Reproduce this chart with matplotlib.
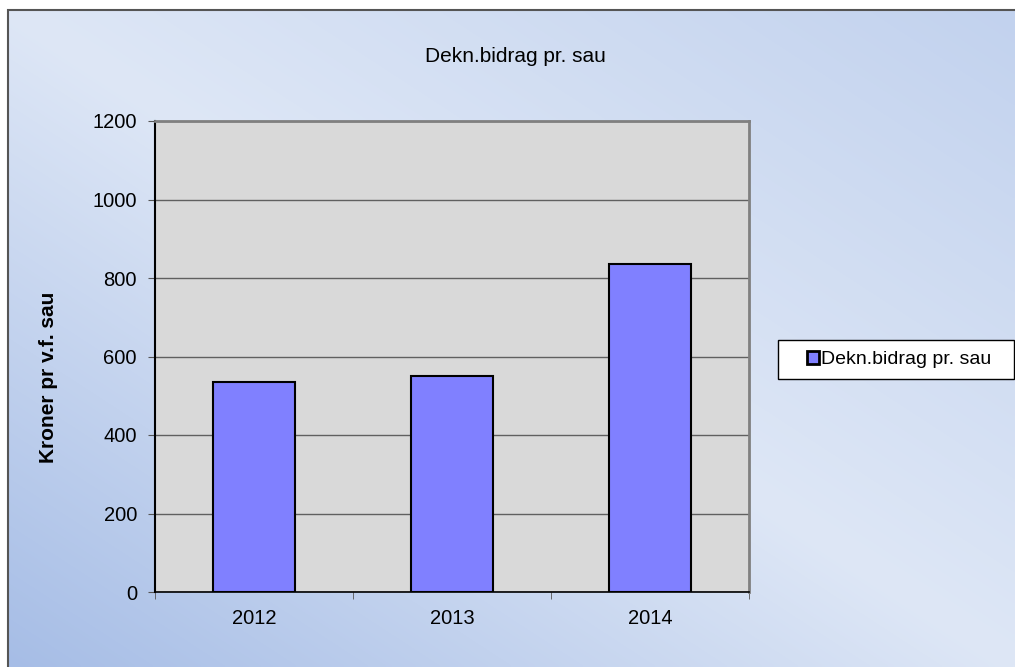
import numpy as np
import matplotlib
matplotlib.use("Agg")
import matplotlib.pyplot as plt
from matplotlib.patches import Rectangle, Patch
from matplotlib.colors import to_rgb

# ---- data ----
years = ["2012", "2013", "2014"]
values = [536, 550, 836]
series_name = "Dekn.bidrag pr. sau"
title = "Dekn.bidrag pr. sau"
ylabel = "Kroner pr v.f. sau"
yticks = [0, 200, 400, 600, 800, 1000, 1200]

plt.rcParams['font.family'] = ['Liberation Sans', 'DejaVu Sans']

W, H = 1015, 667
fig = plt.figure(figsize=(W / 100, H / 100), dpi=100)
fig.patch.set_facecolor("white")

# ---- gradient background inside frame ----
fx0, fy_top = 8, 10
bg = fig.add_axes([fx0 / W, 0, 1 - fx0 / W, 1 - fy_top / H], zorder=-10)
bg.set_axis_off()
gh, gw = 200, 300
yy, xx = np.mgrid[0:gh, 0:gw]
d = yy / (gh - 1) - xx / (gw - 1)  # -1 (top-right) .. +1 (bottom-left)
light = np.array(to_rgb("#dee7f6"))
dark_bl = np.array(to_rgb("#a6bde6"))
dark_tr = np.array(to_rgb("#c2d2ee"))
t_pos = np.clip(d, 0, 1)[..., None]
t_neg = np.clip(-d, 0, 1)[..., None]
img = light * (1 - t_pos - t_neg) + dark_bl * t_pos + dark_tr * t_neg
bg.imshow(img, aspect="auto", extent=[0, 1, 0, 1], interpolation="bilinear")
bg.set_xlim(0, 1)
bg.set_ylim(0, 1)

# frame
fig.patches.append(Rectangle((fx0 / W, -0.1), 1.2, 1.1 - fy_top / H,
                             transform=fig.transFigure, fill=False,
                             edgecolor="#555555", lw=1.5, zorder=-5))

# ---- main axes ----
left, right, top, bottom = 155, 749, 121, 592
ax = fig.add_axes([left / W, 1 - bottom / H, (right - left) / W, (bottom - top) / H])
ax.set_facecolor("#d9d9d9")

x = np.arange(len(years))
bars = ax.bar(x, values, width=0.41, color="#8080ff", edgecolor="black",
              linewidth=1.5, zorder=3, label=series_name)

ax.set_ylim(0, 1200)
ax.set_xlim(-0.5, len(years) - 0.5)
ax.set_yticks(yticks)
ax.set_yticklabels([str(v) for v in yticks])
ax.yaxis.grid(True, color="#606060", lw=1, zorder=1)
ax.set_axisbelow(True)

ax.set_xticks(x)
ax.set_xticklabels(years)
ax.set_xticks(np.arange(-0.5, len(years)), minor=True)
ax.tick_params(axis="x", which="major", length=0, labelsize=14.5, pad=12)
ax.tick_params(axis="x", which="minor", length=5, direction="out", color="#555555")
ax.tick_params(axis="y", length=5, direction="out", labelsize=14.5, pad=8, color="#555555")

for s in ["top", "right"]:
    ax.spines[s].set_color("#808080")
    ax.spines[s].set_linewidth(2)
ax.spines["left"].set_color("black")
ax.spines["left"].set_linewidth(1.5)
ax.spines["bottom"].set_color("black")
ax.spines["bottom"].set_linewidth(1.2)

# ---- texts ----
fig.text(515 / W, 1 - 57 / H, title, ha="center", va="center", fontsize=15)
fig.text(49 / W, 1 - 377 / H, ylabel, rotation=90, ha="center", va="center",
         fontsize=15, fontweight="bold")

# ---- legend ----
lx0, lx1, ly0, ly1 = 778, 1014, 340, 379
fig.patches.append(Rectangle((lx0 / W, 1 - ly1 / H), (lx1 - lx0) / W, (ly1 - ly0) / H,
                             transform=fig.transFigure, facecolor="white",
                             edgecolor="black", lw=1, zorder=2))
handle = Patch(facecolor="#8080ff", edgecolor="black", linewidth=2)
leg = fig.legend([handle], [series_name], loc="center",
                 bbox_to_anchor=((lx0 + lx1) / 2 / W + 0.003, 1 - (ly0 + ly1) / 2 / H),
                 frameon=False, fontsize=14, handlelength=0.62, handleheight=0.62,
                 handletextpad=0.12, borderpad=0)
leg.set_zorder(5)

fig.savefig("out.png", dpi=100)
